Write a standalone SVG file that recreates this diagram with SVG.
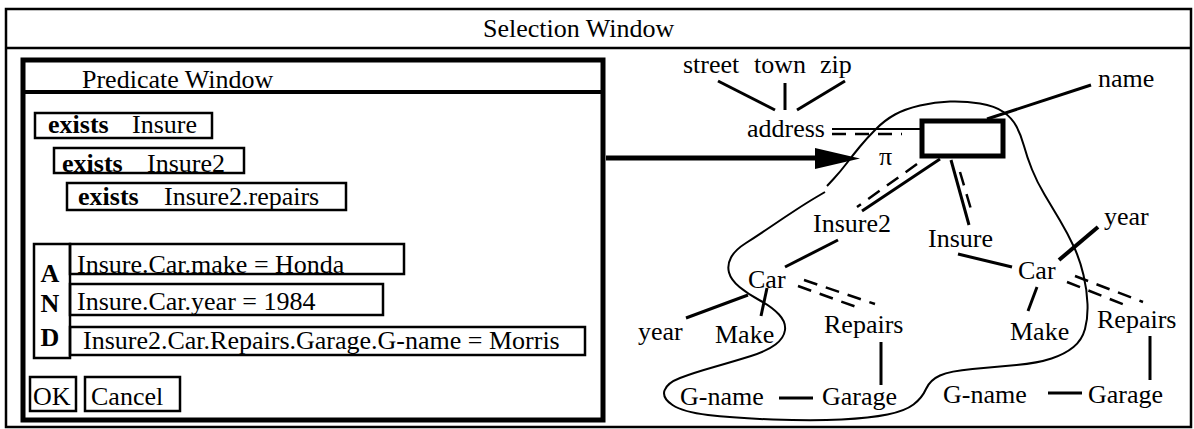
<svg xmlns="http://www.w3.org/2000/svg" width="1194" height="429" viewBox="0 0 1194 429">
<style>
text{font-family:'Liberation Serif','Tinos','Nimbus Roman','Times New Roman','DejaVu Serif',serif;font-size:26px;fill:#000}
.b{font-weight:bold}
.box{fill:none;stroke:#000;stroke-width:2.5}
.e{stroke:#000;stroke-width:3;fill:none;stroke-linecap:butt}
.d{stroke:#000;stroke-width:2.5;fill:none;stroke-dasharray:14 9}
.blob{stroke:#000;stroke-width:2;fill:none}
</style>
<rect width="1194" height="429" fill="#fff"/>
<g id="selection-window">
<rect x="6" y="9" width="1185" height="418" fill="none" stroke="#000" stroke-width="2.5"/>
<line x1="6" y1="48" x2="1191" y2="48" stroke="#000" stroke-width="2.5"/>
<text x="483" y="37" font-family="Liberation Serif, serif">Selection Window</text>
</g>
<g id="predicate-window">
<rect x="23" y="60" width="580" height="360" fill="#fff" stroke="#000" stroke-width="5"/>
<line x1="23" y1="92" x2="603" y2="92" stroke="#000" stroke-width="4"/>
<text x="82" y="88">Predicate Window</text>
</g>
<g id="exists-insure">
<rect class="box" x="35" y="113" width="177" height="25"/>
<text x="48" y="133"><tspan class="b">exists</tspan><tspan x="132">Insure</tspan></text>
</g>
<g id="exists-insure2">
<rect class="box" x="54" y="148" width="190" height="25"/>
<text x="62" y="172"><tspan class="b">exists</tspan><tspan x="147">Insure2</tspan></text>
</g>
<g id="exists-insure2-repairs">
<rect class="box" x="67" y="183" width="279" height="27"/>
<text x="78" y="205"><tspan class="b">exists</tspan><tspan x="164">Insure2.repairs</tspan></text>
</g>
<g id="and">
<rect class="box" x="34" y="244" width="36" height="114"/>
<text class="b" x="50" y="282" text-anchor="middle">A</text>
<text class="b" x="50" y="312" text-anchor="middle">N</text>
<text class="b" x="50" y="346" text-anchor="middle">D</text>
</g>
<g id="cond-make">
<rect class="box" x="70" y="244" width="334" height="30"/>
<text x="77" y="273">Insure.Car.make = Honda</text>
</g>
<g id="cond-year">
<rect class="box" x="70" y="284" width="313" height="31"/>
<text x="77" y="310">Insure.Car.year = 1984</text>
</g>
<g id="cond-gname">
<rect class="box" x="70" y="327" width="515" height="28"/>
<text x="83" y="349">Insure2.Car.Repairs.Garage.G-name = Morris</text>
</g>
<g id="ok">
<rect class="box" x="30" y="377" width="46" height="34"/>
<text x="33" y="405">OK</text>
</g>
<g id="cancel">
<rect class="box" x="85" y="377" width="95" height="34"/>
<text x="91" y="405">Cancel</text>
</g>
<g id="blob">
<path class="blob" d="M827,186 L833.5,179 Q840,172 846.5,163.5 Q853,155 860,146.5 Q867,138 876,129 Q885,120 895,114.5 Q905,109 920,105.5 Q935,102 950,101.5 Q965,101 980,103.5 Q995,106 1003.5,112 Q1012,118 1016.5,126.5 Q1021,135 1024,146 Q1027,157 1032,169.5 Q1037,182 1044.5,194.5 Q1052,207 1060,220.5 Q1068,234 1074,247 Q1080,260 1083.5,275 Q1087,290 1087.5,304 Q1088,318 1085,329 Q1082,340 1073.5,347 Q1065,354 1051.5,358.5 Q1038,363 1016.5,365 Q995,367 972.5,369 Q950,371 940,375.5 Q930,380 926,389 Q922,398 913.5,404.5 Q905,411 887.5,414.5 Q870,418 841.5,419.5 Q813,421 773,419.5 Q733,418 708,415 Q683,412 672.5,405 Q662,398 664.5,390.5 Q667,383 680,378 Q693,373 714,367 Q735,361 751,356 Q767,351 775.5,344.5 Q784,338 785,330 Q786,322 779,314.5 Q772,307 760,300.5 Q748,294 739.5,287 Q731,280 729,272.5 Q727,265 731,257.5 Q735,250 746,243 Q757,236 771,226.5 Q785,217 796.5,209.5 Q808,202 816.5,197 L825,192"/>
</g>
<g id="connectors">
<line x1="606" y1="158" x2="818" y2="158" stroke="#000" stroke-width="5"/>
<polygon points="815,148 860,158.5 815,169" fill="#000"/>
<line class="e" x1="718" y1="81" x2="775" y2="110"/>
<line class="e" x1="785" y1="83" x2="785" y2="110"/>
<line class="e" x1="797" y1="110" x2="845" y2="81"/>
<line x1="832" y1="129" x2="922" y2="129" stroke="#000" stroke-width="2"/>
<line class="d" x1="832" y1="134" x2="902" y2="134" stroke-dasharray="10 10 18 10 20"/>
<line class="e" x1="987" y1="119" x2="1091" y2="85"/>
<line class="e" x1="940" y1="159" x2="862" y2="211"/>
<line class="d" x1="917" y1="164" x2="857" y2="207"/>
<line class="e" x1="951" y1="160" x2="969" y2="225"/>
<line class="d" x1="960" y1="172" x2="973" y2="216"/>
<line class="e" x1="838" y1="240" x2="785" y2="267"/>
<line class="e" x1="748" y1="295" x2="686" y2="318"/>
<line class="e" x1="767" y1="288" x2="761" y2="316"/>
<line class="d" x1="804" y1="280" x2="875" y2="304"/>
<line class="d" x1="798" y1="286" x2="862" y2="309"/>
<line class="e" x1="881" y1="342" x2="881" y2="385"/>
<line class="e" x1="779" y1="398" x2="813" y2="398"/>
<line class="e" x1="958" y1="254" x2="1012" y2="267"/>
<line class="e" x1="1037" y1="287" x2="1028" y2="311"/>
<line x1="1059" y1="260" x2="1098" y2="227" stroke="#000" stroke-width="4"/>
<line class="d" x1="1075" y1="276" x2="1143" y2="302"/>
<line class="d" x1="1067" y1="282" x2="1130" y2="307"/>
<line class="e" x1="1150" y1="336" x2="1150" y2="380"/>
<line class="e" x1="1048" y1="393" x2="1082" y2="393"/>
</g>
<g id="labels">
<text x="683" y="73">street</text>
<text x="754" y="73">town</text>
<text x="820" y="73">zip</text>
<text x="747" y="137">address</text>
<text x="1098" y="87">name</text>
<text x="879" y="165">π</text>
<rect id="pi-node" x="922" y="121" width="81" height="35" fill="#fff" stroke="#000" stroke-width="5"/>
<text x="813" y="232">Insure2</text>
<text x="928" y="247">Insure</text>
<text x="748" y="288">Car</text>
<text x="1018" y="279">Car</text>
<text x="1104" y="225">year</text>
<text x="638" y="340">year</text>
<text x="715" y="343">Make</text>
<text x="1010" y="340">Make</text>
<text x="824" y="333">Repairs</text>
<text x="1097" y="328">Repairs</text>
<text x="680" y="405">G-name</text>
<text x="822" y="405">Garage</text>
<text x="943" y="403">G-name</text>
<text x="1088" y="403">Garage</text>
</g>
</svg>
